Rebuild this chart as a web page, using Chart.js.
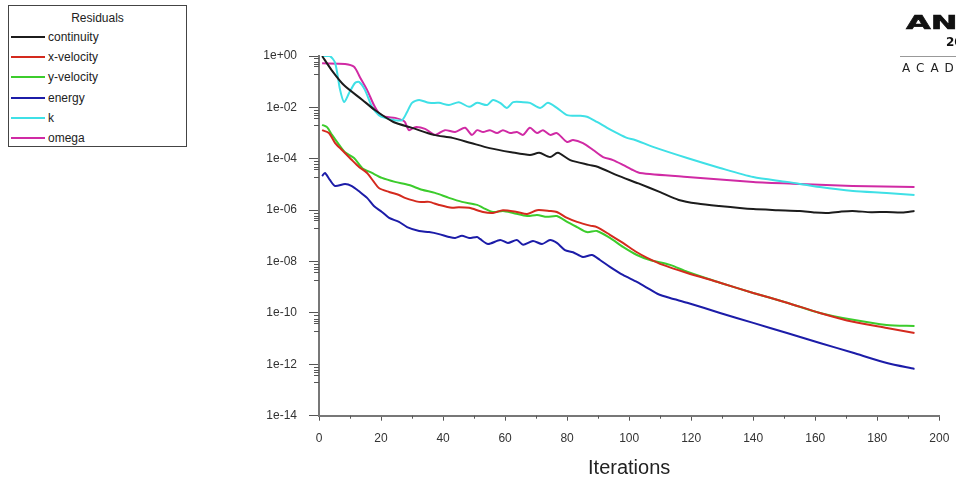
<!DOCTYPE html>
<html>
<head>
<meta charset="utf-8">
<script src="https://cdn.jsdelivr.net/npm/chart.js@4"></script>
<style>
  body { margin: 0; background: #fff; }
  #wrap { position: relative; width: 956px; height: 480px; overflow: hidden; }
  #legend {
    position: absolute; left: 8px; top: 5px; width: 177px; height: 140px;
    border: 1px solid #444; background: #fff;
    font-family: "Liberation Sans", Arial, sans-serif; font-size: 12px; color: #222;
  }
  #legend .title { position: absolute; left: 0; width: 100%; top: 5px; text-align: center; }
  #legend .row { position: absolute; left: 2px; height: 14px; line-height: 14px; }
  #legend .sw { position: absolute; left: 0; top: 6px; width: 34px; height: 2px; }
  #legend .lbl { position: absolute; left: 37px; top: 0; white-space: nowrap; }
  #logo { position: absolute; left: 900px; top: 0; width: 56px; height: 80px; overflow: hidden;
    font-family: "DejaVu Sans", sans-serif; color: #111; }
  #logo .big { position: absolute; left: 6px; top: 10px; font-size: 20px; font-weight: 900;
    transform: scaleX(1.6); transform-origin: left top; white-space: nowrap; -webkit-text-stroke: 0.6px #111; }
  #logo .ver { position: absolute; left: 46px; top: 35px; font-size: 12px; font-weight: bold; white-space: nowrap; }
  #logo .rule { position: absolute; left: 0; top: 56px; width: 56px; height: 1px; background: #999; }
  #logo .acad { position: absolute; left: 2px; top: 61px; font-size: 12px; letter-spacing: 6px; white-space: nowrap; color: #222; }
</style>
</head>
<body>
<div id="wrap">
  <canvas id="residuals" width="956" height="480"></canvas>
  <div id="legend"><div class="title">Residuals</div></div>
  <div id="logo">
    <div class="big">ANSYS</div>
    <div class="ver">2019 R3</div>
    <div class="rule"></div>
    <div class="acad">ACADEMIC</div>
  </div>
</div>
<script>
// tick values / labels
const iterTicks = [0, 20, 40, 60, 80, 100, 120, 140, 160, 180, 200];
const residualTicks = [1e0, 1e-2, 1e-4, 1e-6, 1e-8, 1e-10, 1e-12, 1e-14];
const residualTickLabels = ['1e+00', '1e-02', '1e-04', '1e-06', '1e-08', '1e-10', '1e-12', '1e-14'];

const seriesNames = ['continuity', 'x-velocity', 'y-velocity', 'energy', 'k', 'omega'];
const seriesColors = ['#1c1c1c', '#d42a1e', '#3ccc2c', '#1c1ca8', '#3fe0e6', '#d02aa4'];

// [iteration, residual]
const continuity = [[1,1e0],[4,2.9e-1],[8,7.4e-2],[14,1.95e-2],[18,7.9e-3],[24,2.7e-3],[30,1.6e-3],
  [37,8.5e-4],[43,6.5e-4],[49,4.1e-4],[55,2.6e-4],[62,1.8e-4],[68,1.4e-4],[71,1.7e-4],[74.5,1.17e-4],
  [77,1.7e-4],[81,8.9e-5],[87,5.8e-5],[90,4.8e-5],[96,2.3e-5],[103,1.1e-5],[110,5e-6],[116,2.5e-6],
  [122,1.8e-6],[129,1.45e-6],[140,1.1e-6],[148,1.0e-6],[155,9.3e-7],[160,8.1e-7],[164,7.8e-7],
  [168,8.7e-7],[172,9.3e-7],[178,8.3e-7],[183,8.5e-7],[188,8.1e-7],[192,9.3e-7]];

const xVelocity = [[1,1.3e-3],[3.2,1.0e-3],[5.2,4.1e-4],[7.4,2.2e-4],[10.6,8.9e-5],[12.9,4.8e-5],
  [15.5,2.8e-5],[17.7,1.26e-5],[19.3,7.3e-6],[22.6,5.1e-6],[25.8,3.9e-6],[27.7,3.0e-6],[32.2,2.1e-6],
  [35.5,2.1e-6],[38.7,1.6e-6],[42.9,1.23e-6],[45.1,1.3e-6],[48.4,1.23e-6],[52.9,8.5e-7],[56.1,7.8e-7],
  [59.3,1.0e-6],[63.8,8.5e-7],[67.1,7.1e-7],[70.3,1.0e-6],[74.5,9.3e-7],[76.7,8.5e-7],[80,5.0e-7],
  [83.2,3.5e-7],[87.4,2.5e-7],[89.6,2.2e-7],[93.8,1.1e-7],[98,5.3e-8],[102.5,2.3e-8],[105.8,1.4e-8],
  [110.9,7.4e-9],[118.7,3.6e-9],[129.3,1.5e-9],[140,6.0e-10],[150.9,2.5e-10],[161.5,1.0e-10],
  [172.2,4.5e-11],[183.1,2.6e-11],[192,1.66e-11]];

const yVelocity = [[1,2.1e-3],[2.6,1.7e-3],[4.2,8.5e-4],[6.5,3.5e-4],[8.4,1.8e-4],[11.3,1.07e-4],
  [13.9,4.4e-5],[17.1,2.8e-5],[20.3,1.8e-5],[24.5,1.26e-5],[29,9.5e-6],[33.2,6.2e-6],[37.4,4.7e-6],
  [41.9,3.0e-6],[46.1,2.1e-6],[51,1.6e-6],[52.9,1.23e-6],[56.1,8.5e-7],[59.3,9.3e-7],[62.6,7.8e-7],
  [67.1,5.9e-7],[70.3,6.5e-7],[73.5,5.5e-7],[76.7,5.9e-7],[80,3.5e-7],[83.2,2.2e-7],[86.4,1.4e-7],
  [89.6,1.55e-7],[93.8,8.3e-8],[98,3.7e-8],[102.5,1.8e-8],[106.7,1.15e-8],[113.2,7.4e-9],[118.7,4.0e-9],
  [129.3,1.5e-9],[140,6.0e-10],[150.9,2.5e-10],[161.5,1.0e-10],[172.2,5.4e-11],[183,3.4e-11],[192,3.1e-11]];

const energy = [[1,2.1e-5],[1.9,2.8e-5],[3.5,1.5e-5],[5.2,8.7e-6],[8.4,1.05e-5],[10.6,8.7e-6],
  [13.2,5.1e-6],[15.5,3.0e-6],[17.7,1.45e-6],[20.3,8.5e-7],[22.6,5.0e-7],[25.8,3.5e-7],[28.4,2.2e-7],
  [32.3,1.55e-7],[35.5,1.4e-7],[38.7,1.17e-7],[41.9,9.1e-8],[43.9,8.3e-8],[46.1,1.0e-7],[48.4,8.3e-8],
  [51,9.1e-8],[51.9,7.6e-8],[54.5,4.8e-8],[58.4,6.9e-8],[60.9,5.3e-8],[63.8,6.9e-8],[65.8,4.5e-8],
  [69,6.3e-8],[71.9,4.8e-8],[74.5,6.9e-8],[76.7,5.3e-8],[79.3,2.8e-8],[81.9,2.3e-8],[85.1,1.5e-8],
  [88,1.8e-8],[90.6,1.15e-8],[93.8,6.2e-9],[98,3.0e-9],[102.5,1.6e-9],[106.7,8.2e-10],[109.1,5.6e-10],
  [113.2,3.8e-10],[118.7,2.5e-10],[129.3,1.0e-10],[140,4.1e-11],[150.9,1.66e-11],[161.5,6.8e-12],
  [172.2,2.8e-12],[183.1,1.12e-12],[192,6.6e-13]];

const kResidual = [[1,1e0],[3.5,1e0],[5.2,5.4e-1],[6.8,4.8e-2],[8.1,1.6e-2],[9.7,3.6e-2],[11.6,8.9e-2],
  [12.9,9.8e-2],[14.8,4.8e-2],[17.1,1.05e-2],[19.3,5.0e-3],[21.3,3.9e-3],[24.2,3.2e-3],[26.8,3.2e-3],
  [28.4,6.6e-3],[30,1.5e-2],[32.3,1.95e-2],[35.5,1.5e-2],[38.7,1.5e-2],[41.9,1.23e-2],[45.1,1.6e-2],
  [48.4,1.05e-2],[51,1.5e-2],[54.2,1.23e-2],[56.1,1.95e-2],[58.4,1.5e-2],[60.6,9.5e-3],[62.6,1.6e-2],
  [65.8,1.6e-2],[68,1.5e-2],[71.3,9.5e-3],[73.8,1.5e-2],[76.7,9.5e-3],[80,5.0e-3],[84.2,4.7e-3],
  [86.4,4.3e-3],[89.6,2.7e-3],[92.9,1.6e-3],[96.1,1.0e-3],[99.3,6.5e-4],[101.9,5.4e-4],[107.7,2.9e-4],
  [118.7,1.07e-4],[129.3,4.4e-5],[140,1.95e-5],[150.9,1.26e-5],[161.5,7.9e-6],[172.2,5.6e-6],
  [183,4.7e-6],[192,3.9e-6]];

const omega = [[1,5.2e-1],[8.4,4.9e-1],[11.3,3.8e-1],[13.2,1.5e-1],[15.5,4.8e-2],[17.7,1.23e-2],
  [19.3,6.0e-3],[21.3,4.3e-3],[24.5,3.9e-3],[26.8,3.2e-3],[27.7,2.7e-3],[29,1.3e-3],[31,1.7e-3],
  [34.2,1.45e-3],[37.4,8.5e-4],[40.6,1.3e-3],[43.9,1.1e-3],[47.1,1.6e-3],[49.3,8.5e-4],[51,1.3e-3],
  [52.9,1.1e-3],[55.1,1.3e-3],[57.4,1.0e-3],[59.3,1.3e-3],[61.6,1.0e-3],[63.8,1.1e-3],[65.8,8.5e-4],
  [68,1.6e-3],[70.3,1.0e-3],[72.2,1.3e-3],[74.5,8.5e-4],[76.7,1.0e-3],[80,4.5e-4],[81.9,5.4e-4],
  [85.1,4.1e-4],[88.4,2.2e-4],[91.6,1.17e-4],[94.8,8.9e-5],[98,5.8e-5],[101.3,3.6e-5],[103.5,2.8e-5],
  [118.7,1.95e-5],[140,1.26e-5],[155,1.05e-5],[172,8.7e-6],[192,7.9e-6]];

const allSeries = [continuity, xVelocity, yVelocity, energy, kResidual, omega];

const minorTicks = {
  id: 'minorTicks',
  afterDraw(chart) {
    const ctx = chart.ctx;
    const xs = chart.scales.x, ys = chart.scales.y;
    ctx.save();
    ctx.strokeStyle = '#555';
    ctx.lineWidth = 1;
    ctx.beginPath();
    residualTicks.slice(0, -1).forEach(v => {
      [0.8, 0.6, 0.5, 0.4, 0.2].forEach(m => {
        const py = Math.round(ys.getPixelForValue(v * m)) + 0.5;
        ctx.moveTo(ys.right - 5, py);
        ctx.lineTo(ys.right, py);
      });
    });
    for (let i = 0; i < iterTicks.length - 1; i++) {
      const px = Math.round(xs.getPixelForValue((iterTicks[i] + iterTicks[i + 1]) / 2)) + 0.5;
      ctx.moveTo(px, xs.top);
      ctx.lineTo(px, xs.top + 3);
    }
    ctx.stroke();
    ctx.restore();
  }
};

const chart = new Chart(document.getElementById('residuals'), {
  type: 'line',
  data: {
    datasets: seriesNames.map((name, i) => ({
      label: name,
      data: allSeries[i],
      borderColor: seriesColors[i],
      borderWidth: 2,
      pointRadius: 0,
      tension: 0.25,
      fill: false
    }))
  },
  options: {
    responsive: false,
    animation: false,
    layout: { padding: { top: 56, right: 16.7, left: 0, bottom: 0 } },
    plugins: {
      legend: { display: false },
      tooltip: { enabled: false }
    },
    scales: {
      x: {
        type: 'linear',
        min: 0,
        max: 200,
        afterBuildTicks: s => { s.ticks = iterTicks.map(v => ({ value: v })); },
        afterFit: s => { s.height = 64.3; s.paddingLeft = 0; s.paddingRight = 0; },
        grid: { drawOnChartArea: false, tickLength: 5, color: '#555' },
        border: { display: true, color: '#777', width: 2 },
        ticks: {
          padding: 11,
          color: '#333',
          font: { family: 'Liberation Sans', size: 12 },
          maxRotation: 0
        },
        title: {
          display: true,
          text: 'Iterations',
          color: '#222',
          font: { family: 'Liberation Sans', size: 20 },
          padding: { top: 0, bottom: 0 }
        }
      },
      y: {
        type: 'logarithmic',
        min: 1e-14,
        max: 1,
        afterBuildTicks: s => { s.ticks = residualTicks.map(v => ({ value: v })); },
        afterFit: s => { s.width = 319; s.paddingTop = 0; s.paddingBottom = 0; },
        grid: { drawOnChartArea: false, tickLength: 10, color: '#555' },
        border: { display: true, color: '#777', width: 2 },
        ticks: {
          padding: 12,
          color: '#333',
          font: { family: 'Liberation Sans', size: 12 },
          callback: (v, i) => residualTickLabels[i]
        }
      }
    }
  },
  plugins: [minorTicks]
});

// legend box built from the datasets
const legend = document.getElementById('legend');
chart.data.datasets.forEach((ds, i) => {
  const row = document.createElement('div');
  row.className = 'row';
  row.style.top = (24 + i * 20.2) + 'px';
  row.innerHTML = '<div class="sw" style="background:' + ds.borderColor + '"></div><span class="lbl">' + ds.label + '</span>';
  legend.appendChild(row);
});
</script>
</body>
</html>
